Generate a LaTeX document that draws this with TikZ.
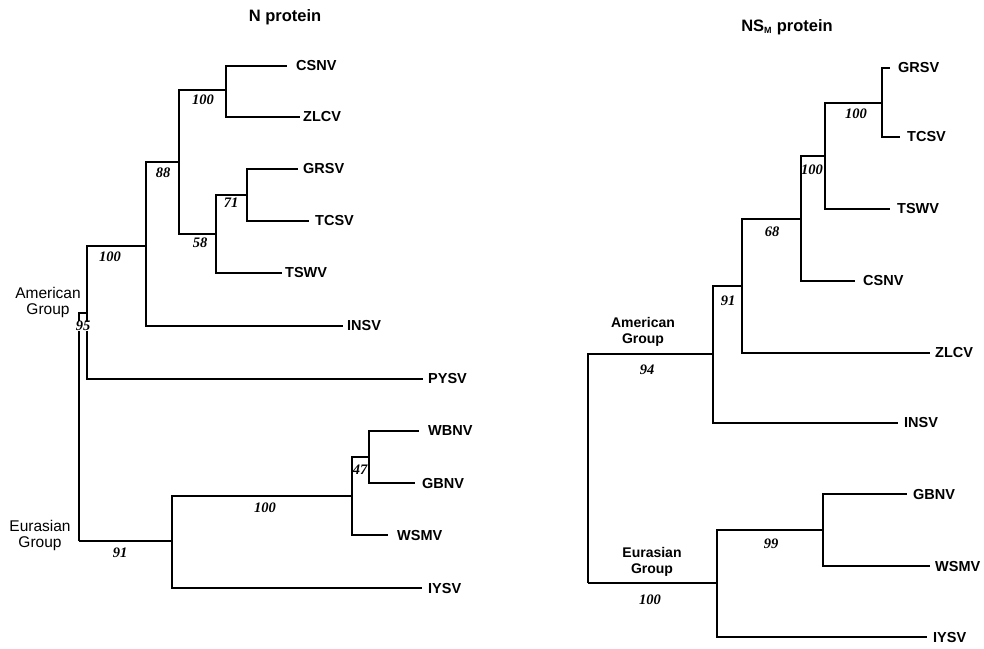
\documentclass[tikz,border=0pt]{standalone}
\usepackage{fontspec}
\setmainfont{Liberation Sans}
\newfontfamily\numfont{Liberation Serif}
\begin{document}
\begin{tikzpicture}[x=1pt,y=-1pt,
  branch/.style={line width=1.5pt, line join=miter},
  taxon/.style={anchor=west, inner sep=0pt, font=\fontsize{14.5}{16}\selectfont\bfseries},
  boot/.style={inner sep=0.5pt, font=\fontsize{14.5}{16}\selectfont\numfont\bfseries\itshape},
  grp/.style={align=center, inner sep=0pt, font=\fontsize{15.5}{16}\selectfont},
  grpb/.style={grp, font=\fontsize{14}{16}\selectfont\bfseries},
  ttl/.style={inner sep=0pt, font=\fontsize{16.5}{18}\selectfont\bfseries}]
\useasboundingbox[fill=white] (0,0) rectangle (984,648);

% ---------------- Left tree: N protein ----------------
\node[ttl] (tL) at (285,17) {N protein};
\coordinate (R) at (79,541);
\coordinate (A) at (87,313);
\coordinate (I100) at (146,246);
\coordinate (N88) at (179,162);
\coordinate (N100a) at (226,90);
\coordinate (N58) at (216,234);
\coordinate (N71) at (247,195);
\coordinate (E) at (172,541);
\coordinate (E100) at (352,496);
\coordinate (N47) at (369,457);
% tips
\coordinate (tCSNV) at (287,66);
\coordinate (tZLCV) at (300,117);
\coordinate (tGRSV) at (298,169);
\coordinate (tTCSV) at (309,221);
\coordinate (tTSWV) at (282,273);
\coordinate (tINSV) at (343,326);
\coordinate (tPYSV) at (423,379);
\coordinate (tWBNV) at (419,431);
\coordinate (tGBNV) at (415,483);
\coordinate (tWSMV) at (388,535);
\coordinate (tIYSV) at (422,588);

\draw[branch] (R) |- (A);
\draw[branch] (R) |- (E);
\draw[branch] (A) |- (I100);
\draw[branch] (A) |- (tPYSV);
\draw[branch] (I100) |- (N88);
\draw[branch] (I100) |- (tINSV);
\draw[branch] (N88) |- (N100a);
\draw[branch] (N88) |- (N58);
\draw[branch] (N100a) |- (tCSNV);
\draw[branch] (N100a) |- (tZLCV);
\draw[branch] (N58) |- (N71);
\draw[branch] (N58) |- (tTSWV);
\draw[branch] (N71) |- (tGRSV);
\draw[branch] (N71) |- (tTCSV);
\draw[branch] (E) |- (E100);
\draw[branch] (E) |- (tIYSV);
\draw[branch] (E100) |- (N47);
\draw[branch] (E100) |- (tWSMV);
\draw[branch] (N47) |- (tWBNV);
\draw[branch] (N47) |- (tGBNV);

\node[taxon] (lCSNV) at (296,66) {CSNV};
\node[taxon] (lZLCV) at (303,117) {ZLCV};
\node[taxon] (lGRSV) at (303,169) {GRSV};
\node[taxon] (lTCSV) at (315,221) {TCSV};
\node[taxon] (lTSWV) at (285,273) {TSWV};
\node[taxon] (lINSV) at (347,326) {INSV};
\node[taxon] (lPYSV) at (428,379) {PYSV};
\node[taxon] (lWBNV) at (428,431) {WBNV};
\node[taxon] (lGBNV) at (422,483) {GBNV};
\node[taxon] (lWSMV) at (397,535) {WSMV};
\node[taxon] (lIYSV) at (428,588) {IYSV};

\node[boot] (b1) at (203,100) {100};
\node[boot] (b2) at (163,173) {88};
\node[boot] (b3) at (200,243) {58};
\node[boot] (b4) at (231,203) {71};
\node[boot] (b5) at (110,257) {100};
\node[boot, fill=white, inner sep=0pt] (b6) at (83,326) {95};
\node[boot] (b7) at (120,553) {91};
\node[boot] (b8) at (265,508) {100};
\node[boot, inner sep=0pt] (b9) at (360,470) {47};

\node[grp] (gA) at (48,302) {American\\Group};
\node[grp] (gE) at (40,535) {Eurasian\\Group};

% ---------------- Right tree: NSM protein ----------------
\node[ttl] (tR) at (787,27) {NS\textsubscript{\fontsize{9}{10}\selectfont M} protein};
\coordinate (R2) at (588,583);
\coordinate (A2) at (713,354);
\coordinate (N91) at (742,286);
\coordinate (N68) at (801,219);
\coordinate (N100b) at (825,156);
\coordinate (N100c) at (882,103);
\coordinate (E2) at (717,583);
\coordinate (N99) at (823,530);
% tips
\coordinate (uGRSV) at (890,68);
\coordinate (uTCSV) at (900,137);
\coordinate (uTSWV) at (890,209);
\coordinate (uCSNV) at (855,281);
\coordinate (uZLCV) at (930,353);
\coordinate (uINSV) at (898,423);
\coordinate (uGBNV) at (907,494);
\coordinate (uWSMV) at (930,566);
\coordinate (uIYSV) at (927,637);

\draw[branch] (R2) |- (A2);
\draw[branch] (R2) |- (E2);
\draw[branch] (A2) |- (N91);
\draw[branch] (A2) |- (uINSV);
\draw[branch] (N91) |- (N68);
\draw[branch] (N91) |- (uZLCV);
\draw[branch] (N68) |- (N100b);
\draw[branch] (N68) |- (uCSNV);
\draw[branch] (N100b) |- (N100c);
\draw[branch] (N100b) |- (uTSWV);
\draw[branch] (N100c) |- (uGRSV);
\draw[branch] (N100c) |- (uTCSV);
\draw[branch] (E2) |- (N99);
\draw[branch] (E2) |- (uIYSV);
\draw[branch] (N99) |- (uGBNV);
\draw[branch] (N99) |- (uWSMV);

\node[taxon] (mGRSV) at (898,68) {GRSV};
\node[taxon] (mTCSV) at (907,137) {TCSV};
\node[taxon] (mTSWV) at (897,209) {TSWV};
\node[taxon] (mCSNV) at (863,281) {CSNV};
\node[taxon] (mZLCV) at (935,353) {ZLCV};
\node[taxon] (mINSV) at (904,423) {INSV};
\node[taxon] (mGBNV) at (913,494) {GBNV};
\node[taxon] (mWSMV) at (935,566) {WSMV};
\node[taxon] (mIYSV) at (933,637) {IYSV};

\node[boot] (c1) at (856,114) {100};
\node[boot] (c2) at (812,170) {100};
\node[boot] (c3) at (772,232) {68};
\node[boot] (c4) at (728,301) {91};
\node[boot] (c5) at (647,370) {94};
\node[boot] (c6) at (771,544) {99};
\node[boot] (c7) at (650,600) {100};

\node[grpb] (hA) at (643,332) {American\\Group};
\node[grpb] (hE) at (652,562) {Eurasian\\Group};
\end{tikzpicture}
\end{document}
